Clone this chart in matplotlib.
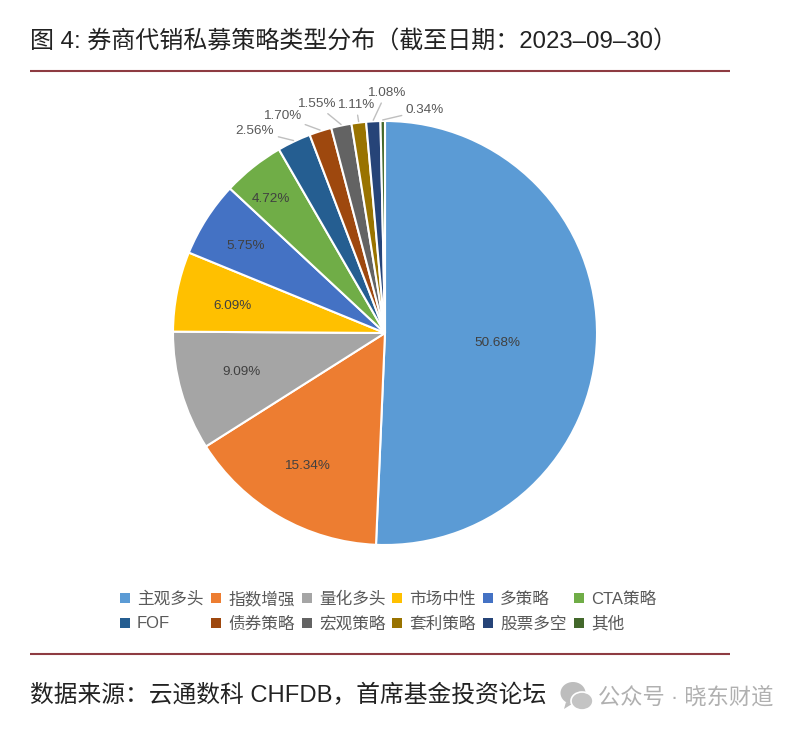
import matplotlib
matplotlib.use('Agg')
import matplotlib.pyplot as plt
import numpy as np
from matplotlib.patches import Rectangle, Ellipse, Polygon

plt.rcParams['font.family'] = ['Liberation Sans', 'Noto Sans CJK SC', 'DejaVu Sans']

categories = ['主观多头', '指数增强', '量化多头', '市场中性', '多策略', 'CTA策略',
              'FOF', '债券策略', '宏观策略', '套利策略', '股票多空', '其他']
shares = [50.68, 15.34, 9.09, 6.09, 5.75, 4.72, 2.56, 1.70, 1.55, 1.11, 1.08, 0.34]
colors = ['#5B9BD5', '#ED7D31', '#A5A5A5', '#FFC000', '#4472C4', '#70AD47',
          '#255E91', '#9E480E', '#636363', '#997300', '#264478', '#43682B']

title = '图 4: 券商代销私募策略类型分布（截至日期：2023–09–30）'
source = '数据来源：云通数科 CHFDB，首席基金投资论坛'
watermark = '公众号 · 晓东财道'

H = 730
cx, cy, radius = 385, 333, 212

fig = plt.figure(figsize=(8.04, 7.30), dpi=100)
ax = fig.add_axes([0, 0, 1, 1])

wedges, _ = ax.pie(shares, colors=colors, startangle=90, counterclock=False,
                   center=(cx, H - cy), radius=radius, frame=True,
                   wedgeprops={'edgecolor': 'white', 'linewidth': 1.5})
ax.set_xlim(0, 804)
ax.set_ylim(0, H)
ax.set_aspect('equal')
ax.axis('off')

# label centres in pixels
inner_pos = [(497, 343), (307, 466), (242, 372), (233, 306), (246, 246), (271, 199)]
for i, (tx, ty) in enumerate(inner_pos):
    ax.text(tx, H - ty, f'{shares[i]:.2f}%', ha='center', va='center', fontsize=9.7, color='#404040')

# small slices get a leader line
outer_pos = [(255, 131), (282, 116), (316, 104), (356, 105), (386, 93), (425, 110)]
for i, (tx, ty) in zip(range(6, 12), outer_pos):
    a = np.deg2rad((wedges[i].theta1 + wedges[i].theta2) / 2)
    ex, ey = cx + radius * 1.005 * np.cos(a), H - cy + radius * 1.005 * np.sin(a)
    ax.annotate(f'{shares[i]:.2f}%', xy=(ex, ey), xytext=(tx, H - ty), ha='center', va='center',
                fontsize=9.7, color='#595959',
                arrowprops={'arrowstyle': '-', 'color': '#BFBFBF', 'lw': 1,
                            'shrinkA': 1, 'shrinkB': 0})

# legend, two rows of six
col_x = [125, 216, 307, 397, 488, 579]
row_y = [598, 623]
for i, name in enumerate(categories):
    x, y = col_x[i % 6], row_y[i // 6]
    ax.add_patch(Rectangle((x - 5, H - y - 5), 10, 10, color=colors[i], lw=0))
    ax.text(x + 12, H - y - 1, name, ha='left', va='center', fontsize=12, color='#595959')

# rules and text
for y in [71, 654]:
    ax.plot([30, 730], [H - y, H - y], color='#8E3B42', lw=1.5, solid_capstyle='butt')
ax.text(30, H - 41, title, ha='left', va='center', fontsize=17.3, color='#222222')
ax.text(30, H - 696, source, ha='left', va='center', fontsize=17.1, color='#222222')

# watermark
ax.add_patch(Ellipse((573, H - 693), 25, 22, color='#BDBDBD', lw=0))
ax.add_patch(Polygon([(566, H - 702), (564, H - 709), (572, H - 704)], color='#BDBDBD', lw=0))
ax.add_patch(Ellipse((582, H - 701), 22, 18, fc='#C4C4C4', ec='white', lw=1.2))
ax.text(598, H - 698, watermark, ha='left', va='center', fontsize=16, color='#B0B0B0')

fig.savefig('out.png', dpi=100)
